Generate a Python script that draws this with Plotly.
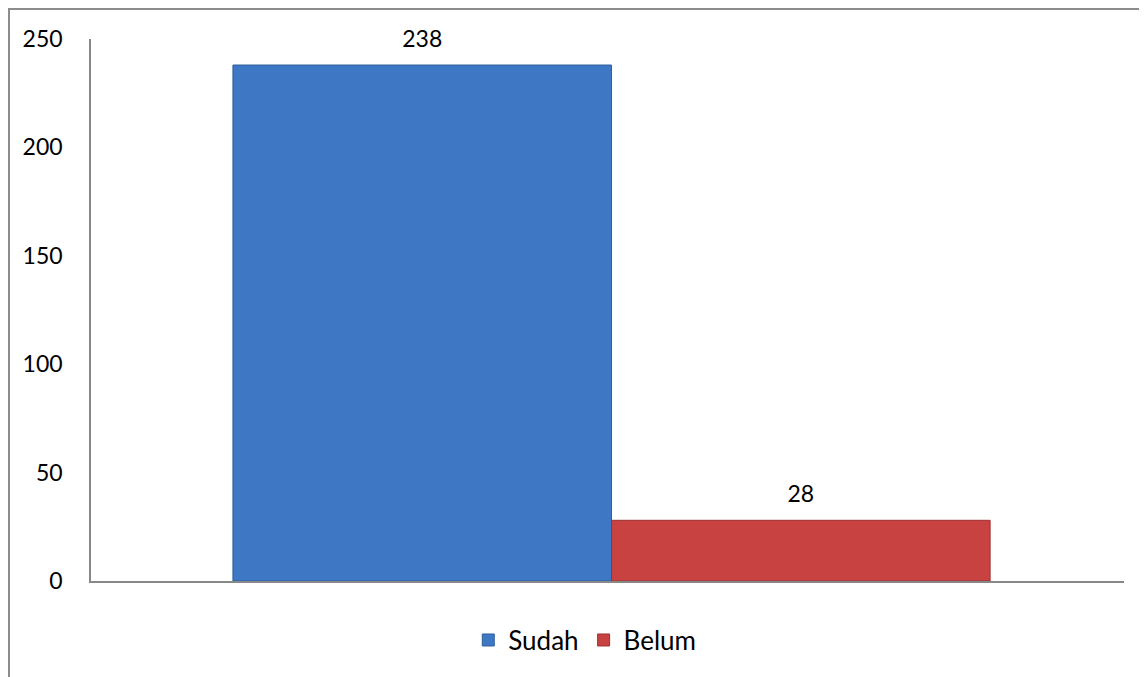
import plotly.graph_objects as go

categories = [""]
series_names = ["Sudah", "Belum"]
sudah_values = [238]
belum_values = [28]
y_ticks = [0, 50, 100, 150, 200, 250]

colors = {"Sudah": "#3E77C3", "Belum": "#C84242"}
lines = {"Sudah": "#2F5F9E", "Belum": "#9E3030"}

fig = go.Figure()
for name, vals in zip(series_names, [sudah_values, belum_values]):
    fig.add_trace(go.Bar(
        x=categories, y=vals, name=name, offsetgroup=name,
        marker=dict(color=colors[name], line=dict(color=lines[name], width=1)),
    ))
for name, vals in zip(series_names, [sudah_values, belum_values]):
    fig.add_trace(go.Scatter(
        x=categories, y=vals, mode="markers+text", offsetgroup=name,
        marker=dict(size=18, opacity=0), showlegend=False, hoverinfo="skip",
        text=[str(v) for v in vals], textposition="top center",
        textfont=dict(family="Lato", size=23, color="black"), cliponaxis=False,
    ))

fig.update_layout(
    width=1147, height=677,
    barmode="group", bargap=0.267, bargroupgap=0,
    scattermode="group", scattergap=0.267,
    paper_bgcolor="white", plot_bgcolor="white",
    margin=dict(l=83, r=31, t=31, b=104),
    font=dict(family="Lato", size=23, color="black"),
    showlegend=True,
    legend=dict(orientation="h", x=0.478, xanchor="center", y=-0.109, yanchor="middle",
                font=dict(family="Lato", size=26), traceorder="normal"),
    xaxis=dict(showticklabels=False, showline=True, linecolor="#888888", linewidth=1.5,
               ticks="", showgrid=False, zeroline=False, range=[-0.5039, 0.4961]),
    yaxis=dict(range=[0, 250], tickvals=y_ticks, showline=True, linecolor="#888888",
               linewidth=1.5, ticks="", showgrid=False, zeroline=False,
               ticklabelstandoff=22, tickfont=dict(family="Lato", size=23)),
    shapes=[dict(type="rect", xref="paper", yref="paper",
                 x0=(1 - 83) / 1033, x1=1.1, y0=-0.3, y1=1 + 30 / 542,
                 line=dict(color="#8C8C8C", width=2), layer="below")],
)

fig.write_html("out.html")
